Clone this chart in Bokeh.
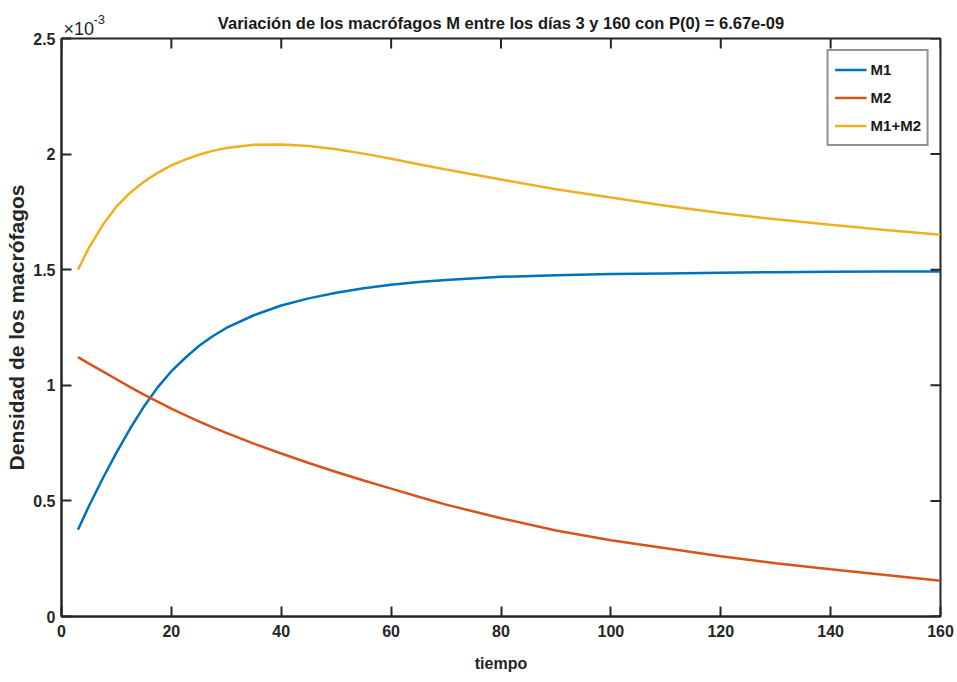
import math
from bokeh.plotting import figure
from bokeh.models import FixedTicker, CustomJSTickFormatter, Range1d
from bokeh.core.properties import value
from bokeh.embed import file_html
from bokeh.resources import INLINE

# tiempo (días)
t = [3, 5, 7.5, 10, 12.5, 15, 17.5, 20, 22.5, 25, 27.5, 30, 35, 40, 45, 50, 55, 60, 65, 70,
     80, 90, 100, 110, 120, 130, 140, 150, 160]
# densidades en unidades de 1e-3
m1 = [0.375, 0.478, 0.597, 0.709, 0.813, 0.908, 0.991, 1.061, 1.118, 1.170, 1.212, 1.248, 1.303,
      1.345, 1.376, 1.400, 1.420, 1.435, 1.447, 1.455,
      1.469, 1.476, 1.481, 1.484, 1.487, 1.489, 1.491, 1.492, 1.492]
m2 = [1.122, 1.094, 1.060, 1.026, 0.992, 0.960, 0.929, 0.899, 0.871, 0.844, 0.818, 0.794, 0.748,
      0.705, 0.664, 0.625, 0.588, 0.553, 0.518, 0.484,
      0.425, 0.372, 0.330, 0.295, 0.261, 0.230, 0.204, 0.179, 0.155]
m12 = [1.500, 1.595, 1.693, 1.773, 1.833, 1.880, 1.919, 1.951, 1.976, 1.997, 2.014, 2.026, 2.040,
       2.041, 2.035, 2.021, 2.002, 1.980, 1.956, 1.933,
       1.890, 1.848, 1.812, 1.777, 1.745, 1.718, 1.694, 1.672, 1.651]

x_ticks = [0, 20, 40, 60, 80, 100, 120, 140, 160]
y_ticks = [0, 0.5, 1, 1.5, 2, 2.5]
x_lo, x_hi = 0, 160
y_lo, y_hi = 0, 2.5

title_text = "Variación de los macrófagos M entre los días 3 y 160 con P(0) = 6.67e-09"
FONT = "Liberation Sans"
AX = "#262626"

p = figure(width=957, height=682, output_backend="svg", toolbar_location=None,
           x_range=Range1d(x_lo, x_hi), y_range=Range1d(y_lo, y_hi),
           min_border_left=61, min_border_right=17, min_border_top=38, min_border_bottom=66)
p.background_fill_color = "white"
p.border_fill_color = "white"
p.grid.visible = False
p.outline_line_color = AX
p.outline_line_width = 2

p.title.text = title_text
p.title.align = "center"
p.title.text_font = FONT
p.title.text_font_style = "bold"
p.title.text_font_size = "16.5px"
p.title.text_color = "#1a1a1a"
p.title.standoff = 13

p.line(t, m1, color="#0072BD", line_width=2.5, legend_label="M1")
p.line(t, m2, color="#D95319", line_width=2.5, legend_label="M2")
p.line(t, m12, color="#EDB120", line_width=2.5, legend_label="M1+M2")

# mirrored inward ticks on the top and right edges (half of each dash is clipped by the frame)
p.scatter(x_ticks, [y_hi] * len(x_ticks), marker="dash", size=20, angle=math.pi / 2,
          line_color=AX, line_width=2)
p.scatter([x_hi] * len(y_ticks), y_ticks, marker="dash", size=20, angle=0,
          line_color=AX, line_width=2)

fmt = CustomJSTickFormatter(code="return tick.toString();")

def style(ax, ticks):
    ax.ticker = FixedTicker(ticks=ticks)
    ax.formatter = fmt
    ax.axis_line_color = AX
    ax.axis_line_width = 2
    ax.major_tick_line_color = AX
    ax.major_tick_line_width = 2
    ax.major_tick_in = 10
    ax.major_tick_out = 0
    ax.minor_tick_in = 0
    ax.minor_tick_out = 0
    ax.major_label_text_font = FONT
    ax.major_label_text_font_style = "bold"
    ax.major_label_text_color = "#262626"
    ax.major_label_text_font_size = "16px"
    ax.axis_label_text_font = FONT
    ax.axis_label_text_font_style = "bold"
    ax.axis_label_text_color = "#262626"

style(p.xaxis[0], x_ticks)
style(p.yaxis[0], y_ticks)
p.xaxis[0].axis_label = "tiempo"
p.xaxis[0].axis_label_text_font_size = "16px"
p.xaxis[0].major_label_standoff = 8
p.xaxis[0].axis_label_standoff = 15
p.yaxis[0].axis_label = "Densidad de los macrófagos"
p.yaxis[0].axis_label_text_font_size = "21px"
p.yaxis[0].major_label_standoff = 6
p.yaxis[0].axis_label_standoff = 2

# exponent of the y axis, drawn above the frame's top-left corner (unclipped overlay level)
p.text(x=[x_lo], y=[y_hi], text=["×10"], x_offset=2, y_offset=-10, level="overlay",
       text_align="left", text_baseline="alphabetic", text_font=value(FONT),
       text_font_size=value("18px"), text_color="#262626")
p.text(x=[x_lo], y=[y_hi], text=["-3"], x_offset=32, y_offset=-19, level="overlay",
       text_align="left", text_baseline="alphabetic", text_font=value(FONT),
       text_font_size=value("13px"), text_color="#262626")

lg = p.legend[0]
lg.location = "top_right"
lg.margin = 11
lg.border_line_color = AX
lg.border_line_width = 2
lg.background_fill_color = "white"
lg.label_text_font = FONT
lg.label_text_font_style = "bold"
lg.label_text_font_size = "15px"
lg.label_text_color = "#1a1a1a"
lg.glyph_width = 32
lg.glyph_height = 25
lg.label_height = 25
lg.label_standoff = 4
lg.spacing = 3
lg.padding = 6

open("out.html", "w").write(file_html(p, INLINE))
